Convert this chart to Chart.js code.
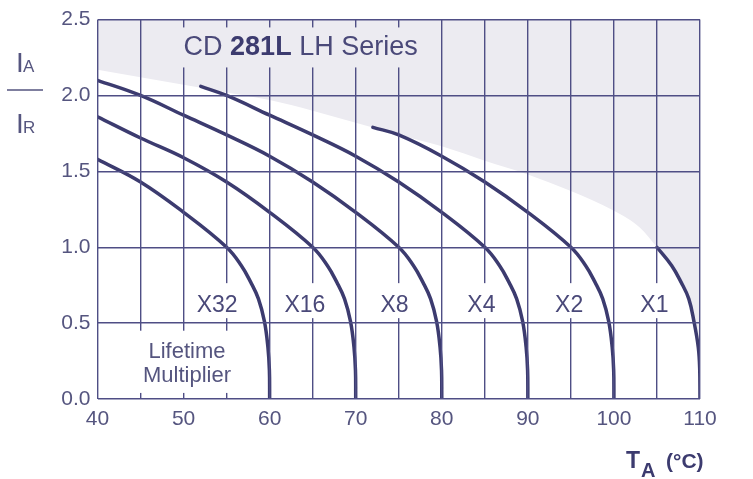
<!DOCTYPE html>
<html>
<head>
<meta charset="utf-8">
<script src="https://cdn.jsdelivr.net/npm/chart.js@4"></script>
<style>
  html, body { margin: 0; padding: 0; background: #fff; }
  #wrap { width: 753px; height: 479px; }
</style>
</head>
<body>
<div id="wrap"><canvas id="chart" width="753" height="479"></canvas></div>
<script>
// Curve data: ambient temperature (°C) vs I_A / I_R
const x32T = [40, 45, 50, 55, 56.7, 57.8, 58.7, 59.4, 59.8, 59.97, 60];
const x32I = [1.58, 1.43, 1.23, 1.00, 0.88, 0.77, 0.66, 0.51, 0.34, 0.19, 0];

const x16T = [40, 45, 50, 55, 60, 65, 66.7, 67.8, 68.7, 69.4, 69.8, 69.97, 70];
const x16I = [1.86, 1.72, 1.59, 1.43, 1.23, 1.00, 0.88, 0.77, 0.66, 0.51, 0.34, 0.19, 0];

const x8T = [40, 45, 50, 55, 60, 65, 70, 75, 76.7, 77.8, 78.7, 79.4, 79.8, 79.97, 80];
const x8I = [2.10, 2.00, 1.87, 1.74, 1.60, 1.43, 1.23, 1.00, 0.88, 0.77, 0.66, 0.51, 0.34, 0.19, 0];

const x4T = [52, 55, 60, 65, 70, 75, 80, 85, 86.7, 87.8, 88.7, 89.4, 89.8, 89.97, 90];
const x4I = [2.06, 2.00, 1.87, 1.74, 1.60, 1.43, 1.23, 1.00, 0.88, 0.77, 0.66, 0.51, 0.34, 0.19, 0];

const x2T = [72, 75, 80, 85, 90, 95, 96.7, 97.8, 98.7, 99.4, 99.8, 99.97, 100];
const x2I = [1.79, 1.74, 1.60, 1.43, 1.23, 1.00, 0.88, 0.77, 0.66, 0.51, 0.34, 0.19, 0];

const x1T = [105, 106.7, 107.8, 108.7, 109.3, 109.8, 109.97, 110];
const x1I = [1.00, 0.88, 0.77, 0.66, 0.51, 0.34, 0.19, 0];

// upper limit of the operating area (shaded above)
const limitT = [40, 45, 50, 55, 60, 65, 70, 75, 80, 85, 90, 95, 100, 103, 105];
const limitI = [2.17, 2.12, 2.07, 2.02, 1.97, 1.90, 1.82, 1.74, 1.665, 1.57, 1.48, 1.37, 1.24, 1.13, 1.00];

// lifetime multiplier labels
const multLabels = ['X32', 'X16', 'X8', 'X4', 'X2', 'X1'];
const multT = [53.9, 64.1, 74.5, 84.6, 94.8, 104.7];
const multI = 0.625;

const xTicks = [40, 50, 60, 70, 80, 90, 100, 110];
const yTicks = [0.0, 0.5, 1.0, 1.5, 2.0, 2.5];

const INK = '#3c3b6f';
const GRID = '#4f4e85';
const TEXT = '#55557f';
const SHADE = '#ecebf1';
const FONT = '"Liberation Sans", Arial, sans-serif';

function pts(T, I) {
    return T.map((t, i) => ({ x: t, y: I[i] }));
}

function curve(T, I) {
    return {
        data: pts(T, I),
        borderColor: INK,
        borderWidth: 3.5,
        borderCapStyle: 'round',
        pointRadius: 0,
        fill: false,
        tension: 0.4
    };
}

// white / shaded boxes with text over the grid
const notes = {
    id: 'notes',
    afterDraw(chart) {
        const { ctx } = chart;
        const xs = chart.scales.x, ys = chart.scales.y;
        ctx.save();
        ctx.textBaseline = 'alphabetic';

        // series title
        const tx = xs.getPixelForValue(63.6), ty = ys.getPixelForValue(2.31);
        const parts = [
            { t: 'CD ', f: '27px ' + FONT, c: '#4a4979' },
            { t: '281L', f: 'bold 27px ' + FONT, c: '#3c3b6f' },
            { t: ' LH Series', f: '27px ' + FONT, c: '#4a4979' }
        ];
        let tw = 0;
        parts.forEach(p => { ctx.font = p.f; p.w = ctx.measureText(p.t).width; tw += p.w; });
        ctx.fillStyle = SHADE;
        ctx.fillRect(tx - tw / 2 - 8, ty - 21, tw + 16, 40);
        let px = tx - tw / 2;
        parts.forEach(p => {
            ctx.font = p.f;
            ctx.fillStyle = p.c;
            ctx.fillText(p.t, px, ty + 7);
            px += p.w;
        });

        // multiplier labels
        ctx.font = '23px ' + FONT;
        ctx.textAlign = 'center';
        multLabels.forEach((lab, i) => {
            const cx = xs.getPixelForValue(multT[i]);
            const cy = ys.getPixelForValue(multI);
            const w = ctx.measureText(lab).width;
            ctx.fillStyle = '#fff';
            ctx.fillRect(cx - w / 2 - 3, cy - 21, w + 6, 35);
            ctx.fillStyle = '#4a4979';
            ctx.fillText(lab, cx, cy + 8);
        });

        // lifetime multiplier caption
        const lx = xs.getPixelForValue(50.4);
        ctx.font = '22px ' + FONT;
        ctx.fillStyle = '#fff';
        ctx.fillRect(lx - 57, ys.getPixelForValue(0.45), 114, ys.getPixelForValue(0.04) - ys.getPixelForValue(0.45));
        ctx.fillStyle = TEXT;
        ctx.fillText('Lifetime', lx, ys.getPixelForValue(0.326) + 8);
        ctx.fillText('Multiplier', lx, ys.getPixelForValue(0.163) + 8);

        // y axis title: I_A / I_R
        ctx.textAlign = 'left';
        ctx.fillStyle = TEXT;
        ctx.font = '28px ' + FONT;
        ctx.fillText('I', 16, 72);
        ctx.fillText('I', 16, 133);
        ctx.font = '17px ' + FONT;
        ctx.fillText('A', 23, 72);
        ctx.fillText('R', 23, 133);
        ctx.strokeStyle = TEXT;
        ctx.lineWidth = 1.3;
        ctx.beginPath();
        ctx.moveTo(7, 90);
        ctx.lineTo(43, 90);
        ctx.stroke();

        // x axis title: T_A (°C)
        ctx.fillStyle = '#3c3b6f';
        ctx.font = 'bold 23px ' + FONT;
        ctx.fillText('T', 626, 468);
        ctx.font = 'bold 20px ' + FONT;
        ctx.fillText('A', 641, 477);
        ctx.font = 'bold 21px ' + FONT;
        ctx.fillText('(°C)', 666, 468);
        ctx.restore();
    }
};

const ctx = document.getElementById('chart').getContext('2d');
new Chart(ctx, {
    type: 'line',
    data: {
        datasets: [
            curve(x32T, x32I),
            curve(x16T, x16I),
            curve(x8T, x8I),
            curve(x4T, x4I),
            curve(x2T, x2I),
            curve(x1T, x1I),
            // shaded area goes last so it is painted first (under the curves)
            {
                data: pts(limitT.concat(x1T.slice(1)), limitI.concat(x1I.slice(1))),
                borderWidth: 0,
                borderColor: 'rgba(0,0,0,0)',
                backgroundColor: SHADE,
                pointRadius: 0,
                fill: 'end',
                cubicInterpolationMode: 'monotone'
            }
        ]
    },
    options: {
        responsive: false,
        devicePixelRatio: 1,
        animation: false,
        layout: { padding: { top: 15, right: 53, left: 0, bottom: 0 } },
        plugins: { legend: { display: false }, tooltip: { enabled: false } },
        scales: {
            x: {
                type: 'linear',
                min: 40,
                max: 110,
                afterFit: s => { s.height = 80; },
                grid: { color: GRID, lineWidth: 1.4, drawTicks: false, z: 1 },
                border: { display: false },
                ticks: {
                    stepSize: 5,
                    autoSkip: false,
                    maxRotation: 0,
                    padding: 8,
                    color: TEXT,
                    font: { family: FONT, size: 21 },
                    callback: v => xTicks.includes(v) ? String(v) : ''
                }
            },
            y: {
                min: 0,
                max: 2.5,
                afterFit: s => { s.width = 97.5; },
                grid: { color: GRID, lineWidth: 1.4, drawTicks: false, z: 1 },
                border: { display: false },
                ticks: {
                    stepSize: 0.5,
                    padding: 7,
                    color: TEXT,
                    font: { family: FONT, size: 21 },
                    callback: v => yTicks.includes(v) ? v.toFixed(1) : ''
                }
            }
        }
    },
    plugins: [notes]
});
</script>
</body>
</html>
